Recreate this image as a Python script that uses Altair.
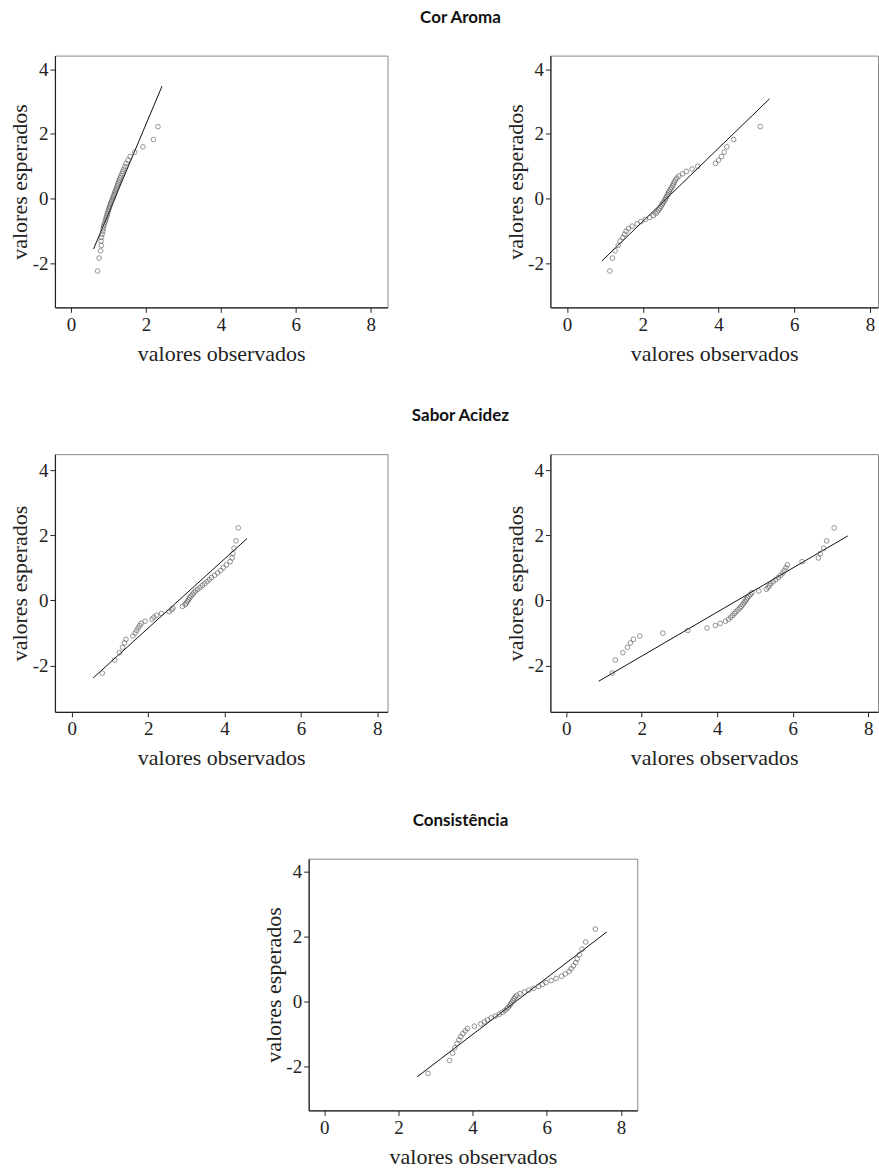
import altair as alt
import pandas as pd

# Expected normal quantiles (shared y values of each Q-Q plot)
EXPECTED = [-2.228, -1.829, -1.604, -1.439, -1.305, -1.192, -1.093, -1.003,
            -0.920, -0.844, -0.771, -0.703, -0.638, -0.576, -0.515, -0.457,
            -0.400, -0.344, -0.290, -0.236, -0.183, -0.130, -0.078, -0.026,
            0.026, 0.078, 0.130, 0.183, 0.236, 0.290, 0.344, 0.400,
            0.457, 0.515, 0.576, 0.638, 0.703, 0.771, 0.844, 0.920,
            1.003, 1.093, 1.192, 1.305, 1.439, 1.604, 1.829, 2.228]

# Observed values per panel
COR_A = [0.71, 0.75, 0.79, 0.81, 0.80, 0.81, 0.83, 0.85, 0.86, 0.87, 0.89, 0.91,
         0.93, 0.94, 0.96, 0.97, 0.99, 1.00, 1.02, 1.03, 1.05, 1.06, 1.08, 1.10,
         1.12, 1.13, 1.15, 1.17, 1.18, 1.20, 1.22, 1.24, 1.25, 1.27, 1.29, 1.31,
         1.33, 1.36, 1.38, 1.41, 1.44, 1.47, 1.52, 1.58, 1.70, 1.92, 2.20, 2.32]
COR_B = [1.13, 1.20, 1.27, 1.35, 1.40, 1.47, 1.52, 1.56, 1.62, 1.72, 1.85, 1.95,
         2.07, 2.18, 2.28, 2.34, 2.38, 2.42, 2.45, 2.48, 2.51, 2.53, 2.56, 2.59,
         2.61, 2.63, 2.66, 2.68, 2.70, 2.73, 2.76, 2.79, 2.81, 2.83, 2.86, 2.90,
         2.95, 3.05, 3.15, 3.30, 3.45, 3.92, 4.00, 4.08, 4.15, 4.22, 4.40, 5.10]
SAB_A = [0.80, 1.12, 1.25, 1.33, 1.38, 1.42, 1.60, 1.66, 1.70, 1.74, 1.78, 1.82,
         1.92, 2.10, 2.15, 2.22, 2.35, 2.55, 2.62, 2.65, 2.90, 2.97, 3.00, 3.03,
         3.06, 3.09, 3.12, 3.16, 3.20, 3.24, 3.30, 3.36, 3.42, 3.48, 3.54, 3.60,
         3.66, 3.74, 3.82, 3.90, 3.97, 4.05, 4.15, 4.20, 4.22, 4.25, 4.30, 4.36]
SAB_B = [1.22, 1.30, 1.50, 1.62, 1.70, 1.78, 1.95, 2.56, 3.22, 3.73, 3.95, 4.08,
         4.22, 4.30, 4.36, 4.41, 4.46, 4.50, 4.55, 4.60, 4.64, 4.68, 4.71, 4.74,
         4.77, 4.80, 4.84, 4.88, 4.92, 5.10, 5.30, 5.35, 5.38, 5.42, 5.48, 5.55,
         5.62, 5.68, 5.74, 5.78, 5.82, 5.86, 6.25, 6.68, 6.73, 6.82, 6.90, 7.10]
CONS = [2.80, 3.38, 3.46, 3.52, 3.58, 3.63, 3.68, 3.74, 3.80, 3.86, 4.05, 4.22,
        4.32, 4.40, 4.50, 4.62, 4.72, 4.80, 4.87, 4.92, 4.96, 5.00, 5.03, 5.06,
        5.09, 5.12, 5.15, 5.19, 5.28, 5.40, 5.52, 5.65, 5.78, 5.88, 5.98, 6.12,
        6.25, 6.40, 6.50, 6.60, 6.66, 6.72, 6.78, 6.82, 6.88, 6.95, 7.05, 7.31]

# Reference lines (endpoints)
LINE_COR_A = ([0.60, 2.43], [-1.55, 3.48])
LINE_COR_B = ([0.92, 5.35], [-1.92, 3.09])
LINE_SAB_A = ([0.56, 4.59], [-2.38, 1.90])
LINE_SAB_B = ([0.86, 7.46], [-2.48, 1.98])
LINE_CONS = ([2.51, 7.62], [-2.33, 2.14])

ROW_TITLES = ["Cor Aroma", "Sabor Acidez", "Consistência"]
X_TICKS = [0, 2, 4, 6, 8]
Y_TICKS = [-2, 0, 2, 4]

SERIF = "Liberation Serif"
DARK = "#222222"


def row_title(text, tx):
    df = pd.DataFrame({"t": [text]})
    return alt.Chart(df).mark_text(font="Lato", fontWeight="bold", fontSize=17,
                                   align="center", baseline="middle",
                                   color="#111111").encode(
        text="t:N", x=alt.value(tx), y=alt.value(-38))


def panel(obs, line, xdom, ydom, w, h, title=None, tx=406):
    pts = pd.DataFrame({"obs": obs, "exp": EXPECTED})
    ln = pd.DataFrame({"obs": line[0], "exp": line[1]})
    x = alt.X("obs:Q",
              scale=alt.Scale(domain=xdom, nice=False, zero=False),
              axis=alt.Axis(values=X_TICKS, title="valores observados",
                            titleY=46, titleBaseline="middle", labelPadding=3,
                            labelExpr="datum.value"))
    y = alt.Y("exp:Q",
              scale=alt.Scale(domain=ydom, nice=False, zero=False),
              axis=alt.Axis(values=Y_TICKS, title="valores esperados",
                            titleX=-35, titleBaseline="middle", labelPadding=2,
                            labelExpr="datum.value"))
    p = alt.Chart(pts).mark_point(shape="circle", filled=False, size=22,
                                  color="#444444", strokeWidth=0.8).encode(x=x, y=y)
    l = alt.Chart(ln).mark_line(color="#111111", strokeWidth=1).encode(x=x, y=y)
    layers = [l, p]
    if title:
        layers.append(row_title(title, tx))
    return alt.layer(*layers).properties(width=w, height=h)


spacer = alt.Chart(pd.DataFrame({"a": [0]})).mark_point(opacity=0).encode(
    x=alt.value(0), y=alt.value(0)
).properties(width=234, height=252,
             view=alt.ViewBackground(fill="white", stroke="transparent"))

row1 = alt.hconcat(
    panel(COR_A, LINE_COR_A, [-0.43, 8.45], [-3.35, 4.42], 333, 252, ROW_TITLES[0]),
    panel(COR_B, LINE_COR_B, [-0.44, 8.21], [-3.35, 4.42], 328, 252),
    spacing=163, bounds="flush")
row2 = alt.hconcat(
    panel(SAB_A, LINE_SAB_A, [-0.44, 8.27], [-3.42, 4.49], 333, 258, ROW_TITLES[1]),
    panel(SAB_B, LINE_SAB_B, [-0.42, 8.26], [-3.42, 4.49], 328, 258),
    spacing=163, bounds="flush")
row3 = alt.hconcat(
    spacer,
    panel(CONS, LINE_CONS, [-0.42, 8.44], [-3.37, 4.40], 329, 252, ROW_TITLES[2], 152),
    spacing=20, bounds="flush")

chart = alt.vconcat(
    row1, row2, row3, spacing=41
).properties(
    padding={"left": 8, "top": 7, "right": 0, "bottom": 2},
    background="white"
).configure_view(
    stroke="#8a8a8a", strokeWidth=1
).configure_axis(
    grid=False, domainColor=DARK, domainWidth=1.2, tickColor=DARK, tickSize=5,
    labelFont=SERIF, labelFontSize=19, labelColor=DARK,
    titleFont=SERIF, titleFontSize=22, titleFontWeight="normal", titleColor=DARK
)

chart.save("out.html", embed_options={"renderer": "svg", "actions": False})
